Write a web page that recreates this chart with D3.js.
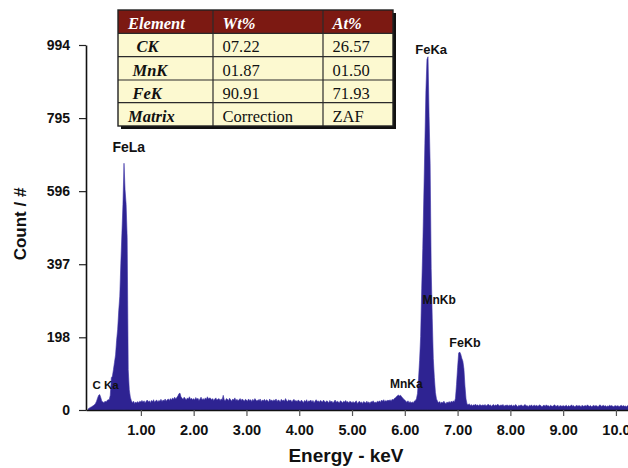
<!DOCTYPE html>
<html>
<head>
<meta charset="utf-8">
<script src="https://cdn.jsdelivr.net/npm/d3@7"></script>
<style>
  html, body { margin: 0; padding: 0; background: #fff; }
  svg { display: block; }
</style>
</head>
<body>
<svg id="chart" width="628" height="468"></svg>
<script>
// ---------------- DATA ----------------
// EDS spectrum counts, one channel every 0.02 keV starting at 0.00 keV
const channelStep = 0.02;
const counts = [
  // 0.00 - 0.48
  3,5,7,8,10,12,14,18,24,33,40,42,34,24,22,20,24,22,26,28,28,40,88,92,110,
  // 0.50 - 0.98
  130,150,190,220,270,310,400,480,560,672,600,560,470,110,55,35,25,20,24,18,22,19,23,20,24,
  // 1.00 - 1.48
  22,26,21,25,19,24,27,22,25,20,26,23,28,21,25,27,22,26,24,29,23,27,25,30,24,
  // 1.50 - 1.98
  28,30,26,31,27,33,29,35,30,34,38,44,46,36,32,29,35,31,27,33,30,36,29,32,28,
  // 2.00 - 2.48
  31,27,34,29,32,26,30,35,28,31,27,33,29,36,30,33,32,28,31,26,30,33,27,29,31,
  // 2.50 - 2.98
  26,30,28,40,27,25,31,29,26,32,28,24,30,27,33,26,29,25,28,31,26,30,27,24,29,
  // 3.00 - 3.48
  27,24,30,26,28,23,29,25,31,27,24,28,26,30,23,27,25,29,24,28,26,22,30,25,27,
  // 3.50 - 3.98
  24,28,25,30,23,27,26,22,29,25,27,24,31,26,23,28,25,27,22,26,29,24,26,23,27,
  // 4.00 - 4.48
  25,22,27,24,20,26,23,28,21,25,24,27,22,26,20,24,28,23,25,21,26,24,22,27,23,
  // 4.50 - 4.98
  21,25,23,20,26,22,24,19,23,27,21,24,22,20,25,23,19,24,22,26,21,23,20,24,22,
  // 5.00 - 5.48
  20,23,19,22,25,18,21,24,20,22,18,23,21,19,24,20,22,18,23,21,25,20,22,19,24,
  // 5.50 - 5.98
  22,25,21,27,24,28,23,26,24,27,25,28,24,29,27,31,33,36,39,41,38,40,36,33,29,
  // 6.00 - 6.48
  27,24,21,25,20,23,19,22,20,24,26,30,45,85,135,200,330,440,580,725,870,955,962,800,672,
  // 6.50 - 6.98
  385,250,140,88,48,30,24,20,23,18,22,19,24,20,17,22,19,23,20,24,21,25,22,32,70,
  // 7.00 - 7.48
  115,155,158,152,141,133,112,65,30,16,14,17,12,15,11,14,13,16,12,14,11,15,13,12,14,
  // 7.50 - 7.98
  12,15,11,13,16,12,14,10,13,15,11,14,12,16,13,11,14,12,15,10,13,12,14,11,13,
  // 8.00 - 8.48
  12,14,10,13,11,15,12,9,13,11,14,12,10,13,15,11,12,9,13,11,14,10,12,13,11,
  // 8.50 - 8.98
  13,10,12,14,11,9,12,13,10,14,11,12,9,13,11,10,12,14,10,11,13,9,12,11,10,
  // 9.00 - 9.48
  12,10,11,13,9,12,10,11,14,10,12,9,11,13,10,12,11,9,13,10,11,12,10,14,11,
  // 9.50 - 9.98
  10,12,9,11,13,10,12,11,9,12,14,10,11,13,10,12,9,11,10,13,11,12,10,9,12,
  // 10.00 - 10.24
  11,10,12,9,11,13,10,12,10,11,9,12,10
];

const yTickValues = [0, 198, 397, 596, 795, 994];
const xTickValues = [1, 2, 3, 4, 5, 6, 7, 8, 9, 10];
const xTickLabels = ["1.00","2.00","3.00","4.00","5.00","6.00","7.00","8.00","9.00","10.0"];

// peak labels: name, anchor energy (keV), anchor count
const peakNames    = ["FeLa", "FeKa", "MnKb", "FeKb", "MnKa", "C Ka"];
const peakEnergies = [0.77,   6.50,   6.65,   7.14,   6.03,   0.33];
const peakCounts   = [702,    970,    289,    172,    60,     57];
const peakFontSize = [14,     13,     12,     12.5,   12,     11.5];

// quantification table
const tableHeader = ["Element", "Wt%", "At%"];
const elementCol  = ["CK", "MnK", "FeK", "Matrix"];
const wtCol       = ["07.22", "01.87", "90.91", "Correction"];
const atCol       = ["26.57", "01.50", "71.93", "ZAF"];

const xLabel = "Energy - keV";
const yLabel = "Count  /  #";

// ---------------- DRAW ----------------
const svg = d3.select("#chart");
const W = 628, H = 468;
svg.append("rect").attr("width", W).attr("height", H).attr("fill", "#fff");

const x = d3.scaleLinear().domain([-0.04, 10.24]).range([86, 628.6]);
const y = d3.scaleLinear().domain([0, 994]).range([410, 45]);

const spectrum = counts.map((c, i) => ({ e: i * channelStep, c }));

svg.append("defs").append("clipPath").attr("id", "plotclip")
  .append("rect").attr("x", 86).attr("y", 0).attr("width", W - 86).attr("height", 410);

const area = d3.area()
  .x(d => x(d.e))
  .y0(y(0))
  .y1(d => y(d.c))
  .curve(d3.curveLinear);

svg.append("path")
  .datum(spectrum)
  .attr("clip-path", "url(#plotclip)")
  .attr("d", area)
  .attr("fill", "#2e2392")
  .attr("stroke", "#3d33a6")
  .attr("stroke-width", 0.6);

// Y axis
const yAxis = d3.axisLeft(y).tickValues(yTickValues).tickSize(7).tickSizeOuter(0).tickPadding(9);
const gy = svg.append("g").attr("transform", "translate(86,0)").call(yAxis);
gy.select(".domain").attr("stroke", "#111").attr("stroke-width", 1.6);
gy.selectAll(".tick line").attr("stroke", "#222").attr("stroke-width", 1.2);
gy.selectAll(".tick text")
  .attr("font-family", "'Liberation Sans', Arial, sans-serif")
  .attr("font-weight", "bold").attr("font-size", 14).attr("fill", "#111");

// X axis
const xAxis = d3.axisBottom(x).tickValues(xTickValues)
  .tickFormat((d, i) => xTickLabels[i]).tickSize(6).tickSizeOuter(0).tickPadding(9);
const gx = svg.append("g").attr("transform", "translate(0,410)").call(xAxis);
gx.select(".domain").attr("stroke", "#111").attr("stroke-width", 1.6);
gx.selectAll(".tick line").attr("stroke", "#555").attr("stroke-width", 1.2);
gx.selectAll(".tick text")
  .attr("font-family", "'Liberation Sans', Arial, sans-serif")
  .attr("font-weight", "bold").attr("font-size", 14.5).attr("fill", "#111");

// Axis titles
svg.append("text")
  .attr("x", 346).attr("y", 462).attr("text-anchor", "middle")
  .attr("font-family", "'Liberation Sans', Arial, sans-serif")
  .attr("font-weight", "bold").attr("font-size", 19).attr("fill", "#111")
  .text(xLabel);

svg.append("text")
  .attr("transform", "translate(26,224) rotate(-90)")
  .attr("text-anchor", "middle")
  .attr("font-family", "'Liberation Sans', Arial, sans-serif")
  .attr("font-weight", "bold").attr("font-size", 17).attr("fill", "#111")
  .text(yLabel);

// Peak labels
svg.append("g").selectAll("text")
  .data(peakNames)
  .join("text")
  .attr("x", (d, i) => x(peakEnergies[i]))
  .attr("y", (d, i) => y(peakCounts[i]))
  .attr("text-anchor", "middle")
  .attr("font-family", "'Liberation Sans', Arial, sans-serif")
  .attr("font-weight", "bold")
  .attr("font-size", (d, i) => peakFontSize[i])
  .attr("fill", "#111")
  .text(d => d);

// Table
const tX = 118, tY = 10;
const colW = [95, 110, 70];
const rowH = [23.3, 23.4, 23.3, 22.7, 23.3];
const tW = d3.sum(colW), tH = d3.sum(rowH);
const colX = [tX, tX + colW[0], tX + colW[0] + colW[1]];
const rowY = rowH.map((h, i) => tY + d3.sum(rowH.slice(0, i)));
const tg = svg.append("g");

// shadow
tg.append("rect").attr("x", tX + 3).attr("y", tY + 3).attr("width", tW).attr("height", tH).attr("fill", "#111");
// body bg
tg.append("rect").attr("x", tX).attr("y", tY).attr("width", tW).attr("height", tH).attr("fill", "#fcf9d0");
// header bg
tg.append("rect").attr("x", tX).attr("y", tY).attr("width", tW).attr("height", rowH[0]).attr("fill", "#7c1912");

// grid lines
rowY.slice(1).forEach(yy => {
  tg.append("line").attr("x1", tX).attr("x2", tX + tW).attr("y1", yy).attr("y2", yy)
    .attr("stroke", "#2a2a2a").attr("stroke-width", 1.2);
});
colX.slice(1).forEach(xx => {
  tg.append("line").attr("x1", xx).attr("x2", xx).attr("y1", tY).attr("y2", tY + tH)
    .attr("stroke", "#2a2a2a").attr("stroke-width", 1.2);
});
tg.append("rect").attr("x", tX).attr("y", tY).attr("width", tW).attr("height", tH)
  .attr("fill", "none").attr("stroke", "#222").attr("stroke-width", 1.4);

const serif = "'Liberation Serif', 'Times New Roman', serif";
const textPad = [10, 9.5, 9.5];
// header
tableHeader.forEach((h, j) => {
  tg.append("text")
    .attr("x", colX[j] + textPad[j]).attr("y", rowY[0] + 19.3)
    .attr("font-family", serif).attr("font-weight", "bold").attr("font-style", "italic")
    .attr("font-size", 16.5).attr("fill", "#fff").text(h);
});
const firstIndent = [18.5, 14.5, 14.5, 10];
elementCol.forEach((v, i) => {
  const base = rowY[i + 1] + 19;
  tg.append("text")
    .attr("x", colX[0] + firstIndent[i]).attr("y", base)
    .attr("font-family", serif).attr("font-weight", "bold").attr("font-style", "italic")
    .attr("font-size", 16.5).attr("fill", "#111").text(v);
  tg.append("text")
    .attr("x", colX[1] + textPad[1]).attr("y", base)
    .attr("font-family", serif).attr("font-size", 16.5).attr("fill", "#111").text(wtCol[i]);
  tg.append("text")
    .attr("x", colX[2] + textPad[2]).attr("y", base)
    .attr("font-family", serif).attr("font-size", 16.5).attr("fill", "#111").text(atCol[i]);
});
</script>
</body>
</html>
